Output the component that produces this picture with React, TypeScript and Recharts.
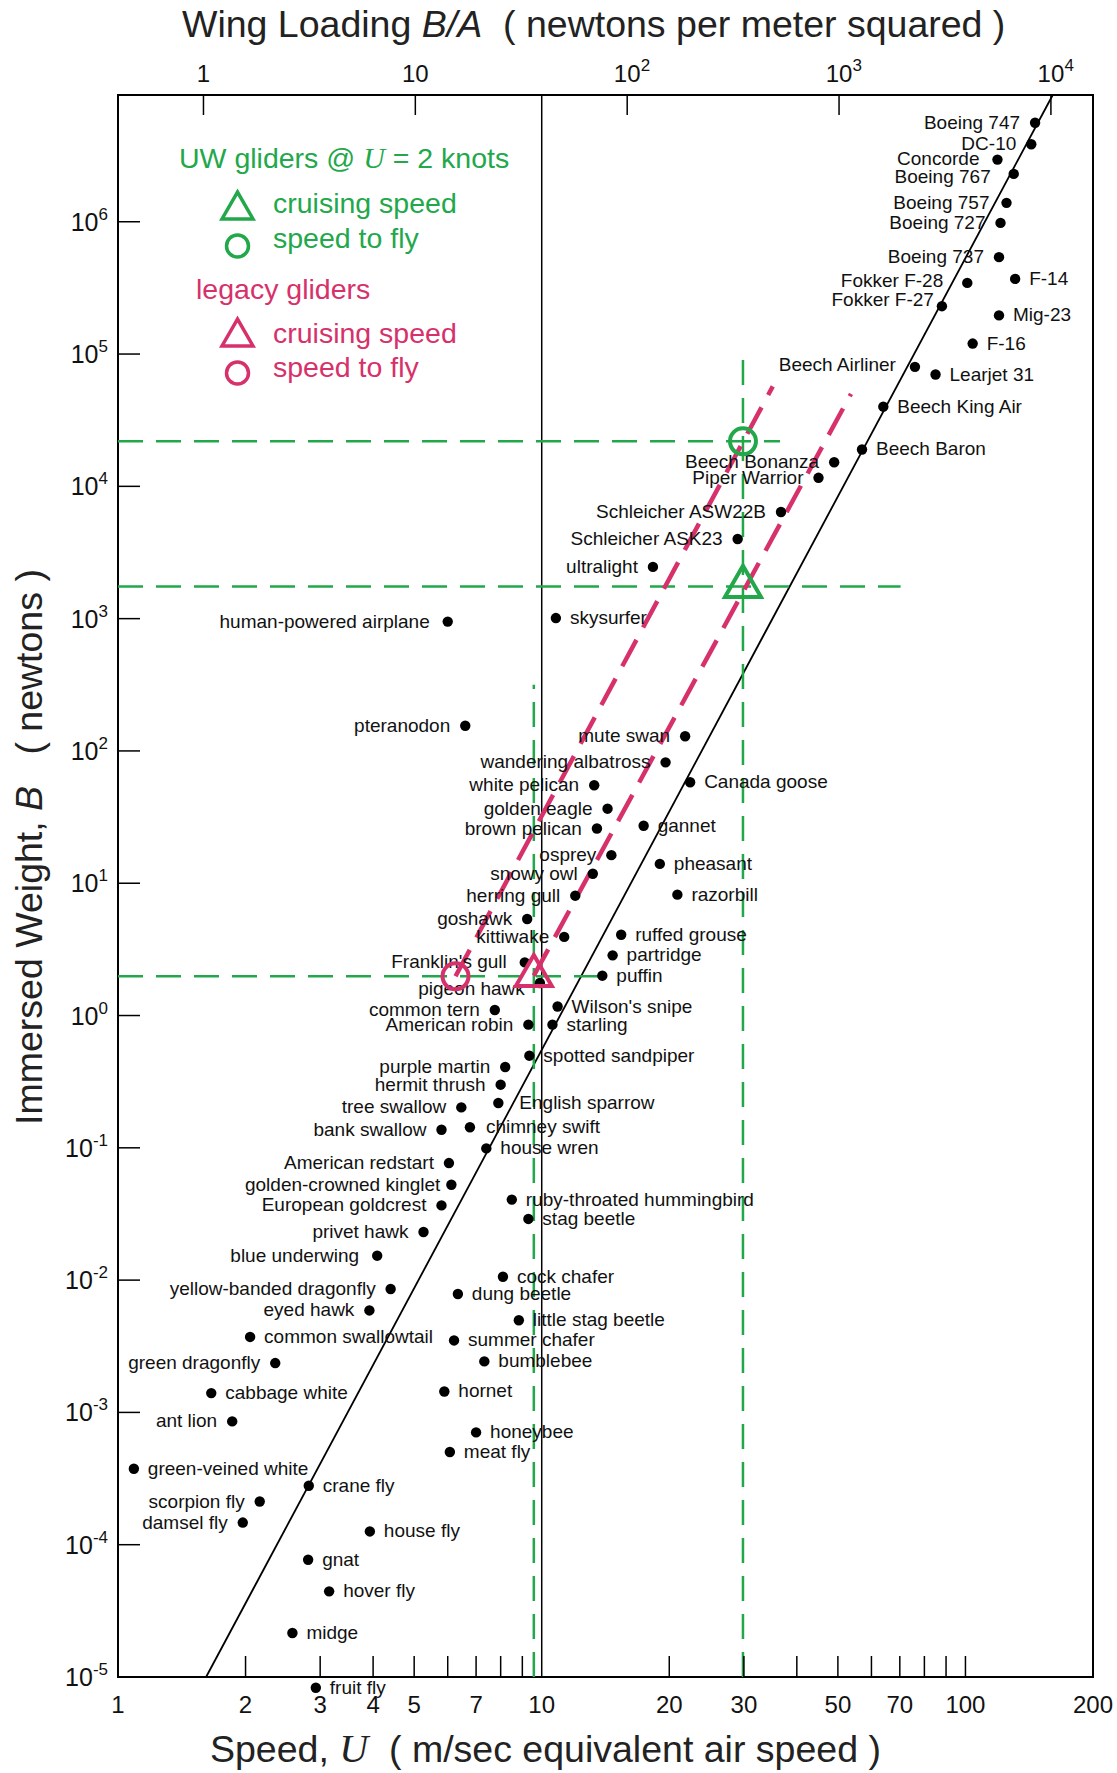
import React from 'react';
import {
  ScatterChart,
  Scatter,
  XAxis,
  YAxis,
  ReferenceLine,
  ReferenceArea,
  ReferenceDot,
} from 'recharts';

type Flyer = { name: string; speed: number; weight: number };

// speed U in m/s, immersed weight B in newtons
const aircraft: Flyer[] = [
  { name: 'Boeing 747', speed: 146, weight: 5.6e6 },
  { name: 'DC-10', speed: 143, weight: 3.85e6 },
  { name: 'Concorde', speed: 119, weight: 2.95e6 },
  { name: 'Boeing 767', speed: 130, weight: 2.3e6 },
  { name: 'Boeing 757', speed: 125, weight: 1.39e6 },
  { name: 'Boeing 727', speed: 121, weight: 9.8e5 },
  { name: 'Boeing 737', speed: 120, weight: 5.4e5 },
  { name: 'F-14', speed: 131, weight: 3.7e5 },
  { name: 'Fokker F-28', speed: 101, weight: 3.45e5 },
  { name: 'Fokker F-27', speed: 88, weight: 2.3e5 },
  { name: 'Mig-23', speed: 120, weight: 1.96e5 },
  { name: 'F-16', speed: 104, weight: 1.2e5 },
  { name: 'Beech Airliner', speed: 76, weight: 8.0e4 },
  { name: 'Learjet 31', speed: 85, weight: 7.0e4 },
  { name: 'Beech King Air', speed: 64, weight: 4.0e4 },
  { name: 'Beech Baron', speed: 57, weight: 1.9e4 },
  { name: 'Beech Bonanza', speed: 49, weight: 1.52e4 },
  { name: 'Piper Warrior', speed: 45, weight: 1.16e4 },
  { name: 'Schleicher ASW22B', speed: 36.7, weight: 6400 },
  { name: 'Schleicher ASK23', speed: 29, weight: 4000 },
  { name: 'ultralight', speed: 18.3, weight: 2460 },
  { name: 'human-powered airplane', speed: 6.0, weight: 950 },
  { name: 'skysurfer', speed: 10.8, weight: 1010 },
  { name: 'pteranodon', speed: 6.6, weight: 155 },
];

const birds: Flyer[] = [
  { name: 'mute swan', speed: 21.8, weight: 129 },
  { name: 'wandering albatross', speed: 19.6, weight: 82 },
  { name: 'Canada goose', speed: 22.4, weight: 58 },
  { name: 'white pelican', speed: 13.3, weight: 55 },
  { name: 'golden eagle', speed: 14.3, weight: 36.6 },
  { name: 'gannet', speed: 17.4, weight: 27.2 },
  { name: 'brown pelican', speed: 13.5, weight: 25.9 },
  { name: 'osprey', speed: 14.6, weight: 16.3 },
  { name: 'pheasant', speed: 19.0, weight: 14.0 },
  { name: 'snowy owl', speed: 13.2, weight: 11.8 },
  { name: 'razorbill', speed: 20.9, weight: 8.2 },
  { name: 'herring gull', speed: 12.0, weight: 8.05 },
  { name: 'goshawk', speed: 9.24, weight: 5.37 },
  { name: 'kittiwake', speed: 11.3, weight: 3.93 },
  { name: 'ruffed grouse', speed: 15.4, weight: 4.08 },
  { name: 'partridge', speed: 14.7, weight: 2.85 },
  { name: "Franklin's gull", speed: 9.12, weight: 2.52 },
  { name: 'puffin', speed: 13.9, weight: 2.0 },
  { name: 'pigeon hawk', speed: 9.9, weight: 1.76 },
  { name: "Wilson's snipe", speed: 10.9, weight: 1.17 },
  { name: 'common tern', speed: 7.75, weight: 1.1 },
  { name: 'American robin', speed: 9.3, weight: 0.853 },
  { name: 'starling', speed: 10.6, weight: 0.853 },
  { name: 'spotted sandpiper', speed: 9.35, weight: 0.497 },
  { name: 'purple martin', speed: 8.2, weight: 0.408 },
  { name: 'hermit thrush', speed: 8.0, weight: 0.3 },
  { name: 'tree swallow', speed: 6.46, weight: 0.202 },
  { name: 'English sparrow', speed: 7.9, weight: 0.218 },
  { name: 'bank swallow', speed: 5.8, weight: 0.137 },
  { name: 'chimney swift', speed: 6.77, weight: 0.143 },
  { name: 'house wren', speed: 7.4, weight: 0.099 },
  { name: 'American redstart', speed: 6.04, weight: 0.0767 },
  { name: 'golden-crowned kinglet', speed: 6.12, weight: 0.0526 },
  { name: 'European goldcrest', speed: 5.8, weight: 0.0367 },
  { name: 'ruby-throated hummingbird', speed: 8.5, weight: 0.0406 },
];

const insects: Flyer[] = [
  { name: 'stag beetle', speed: 9.3, weight: 0.029 },
  { name: 'privet hawk', speed: 5.26, weight: 0.0231 },
  { name: 'blue underwing', speed: 4.09, weight: 0.0153 },
  { name: 'cock chafer', speed: 8.1, weight: 0.0106 },
  { name: 'yellow-banded dragonfly', speed: 4.4, weight: 0.00856 },
  { name: 'dung beetle', speed: 6.34, weight: 0.00785 },
  { name: 'eyed hawk', speed: 3.92, weight: 0.0059 },
  { name: 'little stag beetle', speed: 8.83, weight: 0.00497 },
  { name: 'common swallowtail', speed: 2.05, weight: 0.00372 },
  { name: 'summer chafer', speed: 6.21, weight: 0.0035 },
  { name: 'bumblebee', speed: 7.32, weight: 0.00243 },
  { name: 'green dragonfly', speed: 2.35, weight: 0.00236 },
  { name: 'cabbage white', speed: 1.66, weight: 0.0014 },
  { name: 'hornet', speed: 5.89, weight: 0.00144 },
  { name: 'ant lion', speed: 1.86, weight: 0.000855 },
  { name: 'honeybee', speed: 7.0, weight: 0.000706 },
  { name: 'meat fly', speed: 6.07, weight: 0.000502 },
  { name: 'green-veined white', speed: 1.09, weight: 0.000375 },
  { name: 'crane fly', speed: 2.82, weight: 0.000279 },
  { name: 'scorpion fly', speed: 2.16, weight: 0.000212 },
  { name: 'damsel fly', speed: 1.97, weight: 0.000147 },
  { name: 'house fly', speed: 3.93, weight: 0.000126 },
  { name: 'gnat', speed: 2.81, weight: 7.7e-5 },
  { name: 'hover fly', speed: 3.15, weight: 4.44e-5 },
  { name: 'midge', speed: 2.58, weight: 2.15e-5 },
  { name: 'fruit fly', speed: 2.93, weight: 8.3e-6 },
];

// glider design points
const uwCruise = [{ speed: 29.85, weight: 1750 }];
const uwToFly = [{ speed: 29.85, weight: 21900 }];
const legacyCruise = [{ speed: 9.58, weight: 2.0 }];
const legacyToFly = [{ speed: 6.26, weight: 1.98 }];

// B ~ U^6 trend line
const trendSpeed = [1.614, 160.7];
const trendWeight = [1e-5, 9.08e6];

// green guide lines [speed1, weight1, speed2, weight2]
const guideLines = [
  [1, 21900, 36.5, 21900],
  [1, 1750, 70.3, 1750],
  [1, 1.98, 14.3, 1.98],
  [29.85, 1e-5, 29.85, 1e5],
  [9.58, 1e-5, 9.58, 316],
];
// pink dashed lines through the glider points
const glideLines = [
  [6.26, 1.98, 35.1, 5.7e4],
  [9.58, 2.0, 53.7, 5.0e4],
];

const speedTicks = [1, 2, 3, 4, 5, 6, 7, 8, 9, 10, 20, 30, 40, 50, 60, 70, 80, 90, 100, 200];
const speedLabels = [1, 2, 3, 4, 5, 7, 10, 20, 30, 50, 70, 100, 200];
const weightTicks = [1e-5, 1e-4, 1e-3, 1e-2, 1e-1, 1, 10, 100, 1e3, 1e4, 1e5, 1e6];
const wingTicks = [1, 10, 100, 1000, 10000];

const speedDomain = [1, 200];
const weightDomain = [1e-5, 9.08e6];
// wing loading B/A at the left and right edges of the speed range
const wingDomain = [0.395, 15800];
const wingRange = [
  { wing: wingDomain[0], weight: 1 },
  { wing: wingDomain[1], weight: 1 },
];

// which labels sit left of their dot, plus a few hand nudges
const labelLeft = new Set([
  'Boeing 747', 'DC-10', 'Concorde', 'Boeing 767', 'Boeing 757', 'Boeing 727', 'Boeing 737',
  'Fokker F-28', 'Fokker F-27', 'Beech Airliner', 'Beech Bonanza', 'Piper Warrior',
  'Schleicher ASW22B', 'Schleicher ASK23', 'ultralight', 'human-powered airplane', 'pteranodon',
  'mute swan', 'wandering albatross', 'white pelican', 'golden eagle', 'brown pelican', 'osprey',
  'snowy owl', 'herring gull', 'goshawk', 'kittiwake', "Franklin's gull", 'pigeon hawk',
  'common tern', 'American robin', 'purple martin', 'hermit thrush', 'tree swallow', 'bank swallow',
  'American redstart', 'golden-crowned kinglet', 'European goldcrest', 'privet hawk',
  'blue underwing', 'yellow-banded dragonfly', 'eyed hawk', 'green dragonfly', 'ant lion',
  'scorpion fly', 'damsel fly',
]);
const labelNudge: Record<string, [number, number]> = {
  Concorde: [-3, -1],
  'Boeing 767': [-8, 3],
  'Boeing 757': [-2, 0],
  'Fokker F-28': [-9, -2],
  'Fokker F-27': [7, -6],
  'Beech Airliner': [-4, -2],
  'human-powered airplane': [-3, 0],
  'pigeon hawk': [0, 6],
  "Franklin's gull": [-3, 0],
  'chimney swift': [2, 0],
  'English sparrow': [7, 0],
  'golden-crowned kinglet': [4, 0],
  'blue underwing': [-3, 0],
};

const FONT = '"Liberation Sans", Arial, Helvetica, sans-serif';
const SERIF = '"Liberation Serif", "Times New Roman", serif';
const GREEN = '#22a84b';
const PINK = '#d7316b';

const DotLabel = ({ cx, cy, payload }: any) => {
  if (cx == null || cy == null || !payload) return null;
  const left = labelLeft.has(payload.name);
  const [ndx, ndy] = labelNudge[payload.name] ?? [0, 0];
  return (
    <g>
      <circle cx={cx} cy={cy} r={5.2} fill="#000" />
      <text
        x={(left ? cx - 15 : cx + 14) + ndx}
        y={cy + 6 + ndy}
        textAnchor={left ? 'end' : 'start'}
        fontSize={19}
        fontFamily={FONT}
        fill="#111"
      >
        {payload.name}
      </text>
    </g>
  );
};

const triangle = (color: string, side: number, sw: number) => (p: any) => {
  const { cx, cy } = p;
  const h = (side * Math.sqrt(3)) / 2;
  return (
    <polygon
      points={`${cx},${cy - (2 * h) / 3} ${cx - side / 2},${cy + h / 3} ${cx + side / 2},${cy + h / 3}`}
      fill="none"
      stroke={color}
      strokeWidth={sw}
    />
  );
};
const ring = (color: string, r: number, sw: number) => (p: any) => (
  <circle cx={p.cx} cy={p.cy} r={r} fill="none" stroke={color} strokeWidth={sw} />
);

const SpeedTick = ({ x, y, payload }: any) => {
  const v = payload.value;
  const mark = v !== 1 && v !== 10 && v !== 200;
  return (
    <g>
      {mark && <line x1={x} x2={x} y1={y} y2={y - 21} stroke="#000" strokeWidth={1.5} />}
      {speedLabels.includes(v) && (
        <text x={x} y={y + 36} textAnchor="middle" fontSize={24} fontFamily={FONT} fill="#111">
          {v}
        </text>
      )}
    </g>
  );
};

const WeightTick = ({ x, y, payload }: any) => {
  const exp = Math.round(Math.log10(payload.value));
  return (
    <g>
      {exp > -5 && <line x1={x} x2={x + 22} y1={y} y2={y} stroke="#000" strokeWidth={1.5} />}
      <text x={x - 10} y={y + 9} textAnchor="end" fontSize={25} fontFamily={FONT} fill="#111">
        10
        <tspan dy={-11} fontSize={17}>
          {exp}
        </tspan>
      </text>
    </g>
  );
};

const WingTick = ({ x, y, payload }: any) => {
  const exp = Math.round(Math.log10(payload.value));
  return (
    <g>
      <line x1={x} x2={x} y1={y} y2={y + 20} stroke="#000" strokeWidth={1.5} />
      <text x={x} y={y - 13} textAnchor="middle" fontSize={24} fontFamily={FONT} fill="#111">
        {exp < 2 ? payload.value : 10}
      </text>
      {exp >= 2 && (
        <text x={x + 13.5} y={y - 24} fontSize={17} fontFamily={FONT} fill="#111">
          {exp}
        </text>
      )}
    </g>
  );
};

const Legend = () => (
  <g fontFamily={FONT} fontSize={28.5}>
    <text x={179} y={168} fill={GREEN} xmlSpace="preserve">
      {'UW gliders @ '}
      <tspan fontFamily={SERIF} fontStyle="italic" fontSize={30}>U</tspan>
      {' = 2 knots'}
    </text>
    {triangle(GREEN, 31, 3.5)({ cx: 237.5, cy: 210 })}
    <text x={273} y={213} fill={GREEN}>cruising speed</text>
    {ring(GREEN, 11, 3.5)({ cx: 237.5, cy: 246 })}
    <text x={273} y={248} fill={GREEN}>speed to fly</text>
    <text x={196} y={299} fill={PINK}>legacy gliders</text>
    {triangle(PINK, 31, 3.5)({ cx: 237.5, cy: 337 })}
    <text x={273} y={343} fill={PINK}>cruising speed</text>
    {ring(PINK, 11, 3.5)({ cx: 237.5, cy: 373 })}
    <text x={273} y={377} fill={PINK}>speed to fly</text>
  </g>
);

const Titles = () => (
  <g fontFamily={FONT} fontSize={37.5} fill="#222">
    <text x={182} y={37} xmlSpace="preserve">
      {'Wing Loading '}
      <tspan fontStyle="italic">B/A</tspan>
      {'  ( newtons per meter squared )'}
    </text>
    <text x={210} y={1762} xmlSpace="preserve">
      {'Speed, '}
      <tspan fontFamily={SERIF} fontStyle="italic" fontSize={40}>U</tspan>
      {'  ( m/sec equivalent air speed )'}
    </text>
    <text x={42} y={847} textAnchor="middle" transform="rotate(-90 42 847)" xmlSpace="preserve">
      {'Immersed Weight, '}
      <tspan fontStyle="italic">B</tspan>
      {'   ( newtons )'}
    </text>
  </g>
);

const inRange = (d: Flyer) => d.weight >= weightDomain[0];

export default function App() {
  const below = [...aircraft, ...birds, ...insects].filter((d) => !inRange(d));
  return (
    <div style={{ position: 'absolute', left: 0, top: 0, background: '#fff' }}>
      <ScatterChart width={1117} height={1773} margin={{ top: 0, right: 24, bottom: 0, left: 0 }}>
        <XAxis
          dataKey="speed"
          type="number"
          scale="log"
          domain={speedDomain}
          allowDataOverflow
          ticks={speedTicks}
          interval={0}
          height={96}
          tickSize={0}
          tickMargin={0}
          axisLine={false}
          tickLine={false}
          tick={(p: any) => <SpeedTick {...p} />}
        />
        <XAxis
          xAxisId="wing"
          dataKey="wing"
          orientation="top"
          type="number"
          scale="log"
          domain={wingDomain}
          allowDataOverflow
          ticks={wingTicks}
          interval={0}
          height={95}
          tickSize={0}
          tickMargin={0}
          axisLine={false}
          tickLine={false}
          tick={(p: any) => <WingTick {...p} />}
        />
        <YAxis
          dataKey="weight"
          type="number"
          scale="log"
          domain={weightDomain}
          allowDataOverflow
          ticks={weightTicks}
          interval={0}
          width={118}
          tickSize={0}
          tickMargin={0}
          axisLine={false}
          tickLine={false}
          tick={(p: any) => <WeightTick {...p} />}
        />

        {/* invisible series so the wing-loading axis gets its scale */}
        <Scatter xAxisId="wing" data={wingRange} isAnimationActive={false} shape={() => <g />} />

        <ReferenceArea
          x1={speedDomain[0]}
          x2={speedDomain[1]}
          y1={weightDomain[0]}
          y2={weightDomain[1]}
          fill="none"
          fillOpacity={0}
          stroke="#000"
          strokeWidth={2}
          ifOverflow="visible"
        />
        <ReferenceLine x={10} stroke="#000" strokeWidth={1.5} ifOverflow="visible" />
        <ReferenceLine
          segment={[
            { x: trendSpeed[0], y: trendWeight[0] },
            { x: trendSpeed[1], y: trendWeight[1] },
          ]}
          stroke="#000"
          strokeWidth={1.8}
          ifOverflow="visible"
        />

        <Scatter data={aircraft} isAnimationActive={false} shape={(p: any) => <DotLabel {...p} />} />
        <Scatter data={birds} isAnimationActive={false} shape={(p: any) => <DotLabel {...p} />} />
        <Scatter data={insects.filter(inRange)} isAnimationActive={false} shape={(p: any) => <DotLabel {...p} />} />
        {below.map((d) => (
          <ReferenceDot
            key={d.name}
            x={d.speed}
            y={d.weight}
            ifOverflow="visible"
            shape={(p: any) => <DotLabel cx={p.cx} cy={p.cy} payload={d} />}
          />
        ))}

        {guideLines.map((g, i) => (
          <ReferenceLine
            key={`g${i}`}
            segment={[
              { x: g[0], y: g[1] },
              { x: g[2], y: g[3] },
            ]}
            stroke={GREEN}
            strokeWidth={2.5}
            strokeDasharray="25 13"
            ifOverflow="visible"
          />
        ))}
        {glideLines.map((g, i) => (
          <ReferenceLine
            key={`p${i}`}
            segment={[
              { x: g[0], y: g[1] },
              { x: g[2], y: g[3] },
            ]}
            stroke={PINK}
            strokeWidth={4.5}
            strokeDasharray="30 14"
            ifOverflow="visible"
          />
        ))}

        <Scatter data={uwCruise} isAnimationActive={false} shape={triangle(GREEN, 36, 4)} />
        <Scatter data={uwToFly} isAnimationActive={false} shape={ring(GREEN, 13, 4)} />
        <Scatter data={legacyCruise} isAnimationActive={false} shape={triangle(PINK, 36, 4)} />
        <Scatter data={legacyToFly} isAnimationActive={false} shape={ring(PINK, 13, 4)} />

        <Legend />
        <Titles />
      </ScatterChart>
    </div>
  );
}
